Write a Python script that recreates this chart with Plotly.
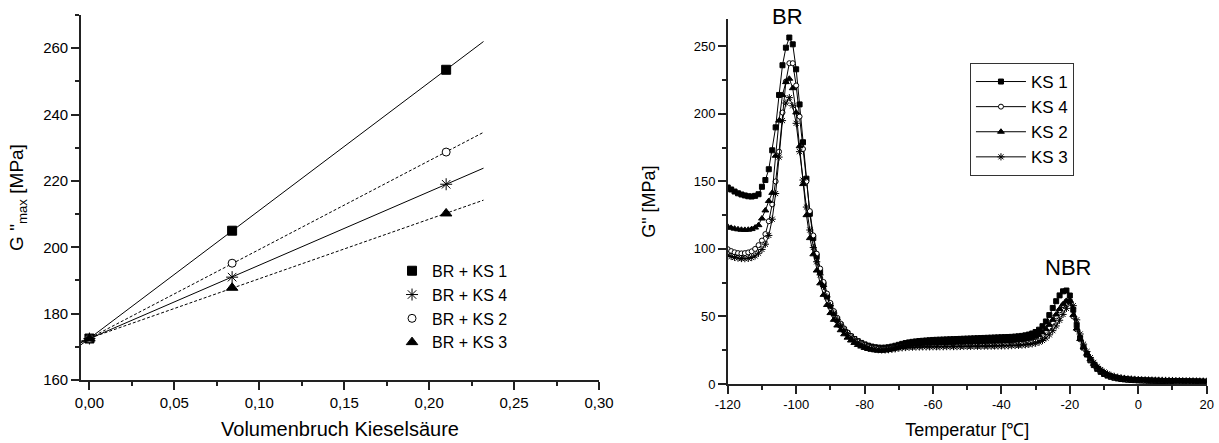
import numpy as np
import plotly.graph_objects as go

FONT = "Liberation Sans, Arial, sans-serif"

# ---- left panel: G''max vs. silica volume fraction ----
vol_frac = [0.0, 0.084, 0.21]
gmax_ks1 = [172.5, 205.0, 253.5]
gmax_ks4 = [172.5, 191.0, 219.0]
gmax_ks2 = [172.5, 195.2, 228.7]
gmax_ks3 = [172.5, 187.8, 210.2]
fit_range = [-0.005, 0.232]

# ---- right panel: loss modulus vs. temperature ----
temp = list(range(-120, 21))

g_ks1 = [
    145.5, 144, 142.5, 141.2, 140.3, 139.6, 139, 138.8, 139.3, 140.5,
    146, 151, 159, 173, 190, 214, 236, 249, 256.5, 251.5,
    233, 207, 179, 152, 126, 108, 94.5, 83, 73.5, 65,
    58, 52.3, 47.5, 43.5, 40.2, 37.5, 35.2, 33.3, 31.7, 30.4,
    29.3, 28.4, 27.7, 27.2, 26.9, 26.8, 26.9, 27.2, 27.7, 28.3,
    29, 29.7, 30.3, 30.8, 31.2, 31.5, 31.8, 32, 32.2, 32.4,
    32.6, 32.7, 32.8, 32.9, 33, 33.1, 33.2, 33.3, 33.4, 33.5,
    33.6, 33.7, 33.8, 33.9, 34, 34.1, 34.2, 34.3, 34.4, 34.5,
    34.6, 34.7, 34.8, 34.9, 35.1, 35.3, 35.6, 36, 36.6, 37.4,
    38.5, 40.2, 42.8, 46.3, 51, 56.3, 61.3, 65.6, 68.6, 69.2,
    65.5, 55, 43.5, 34, 27, 21.8, 17.5, 14, 11.2, 9,
    7.4, 6.2, 5.3, 4.6, 4.1, 3.7, 3.4, 3.2, 3, 2.85,
    2.7, 2.6, 2.5, 2.45, 2.4, 2.35, 2.3, 2.25, 2.2, 2.15,
    2.1, 2.05, 2.0, 1.95, 1.9, 1.85, 1.8, 1.75, 1.7, 1.65, 1.6,
]
g_ks4 = [
    99.8, 98.4, 97.5, 96.9, 96.7, 96.9, 97.4, 98.2, 100, 102.8,
    106.2, 111, 120.5, 133, 150, 172, 201, 224, 237.5, 237.5,
    221, 198, 174, 150, 128, 110, 96.5, 85.5, 75.5, 67,
    60, 54, 49, 44.8, 41.2, 38.2, 35.6, 33.4, 31.6, 30.1,
    28.8, 27.8, 27, 26.4, 26, 25.8, 25.8, 26, 26.4, 26.9,
    27.4, 27.8, 28.1, 28.3, 28.5, 28.6, 28.7, 28.8, 28.9, 28.9,
    29, 29, 29.1, 29.1, 29.2, 29.2, 29.3, 29.3, 29.4, 29.4,
    29.5, 29.5, 29.6, 29.6, 29.7, 29.7, 29.8, 29.8, 29.9, 29.9,
    30, 30.1, 30.2, 30.3, 30.4, 30.6, 30.8, 31.1, 31.5, 32,
    32.8, 34, 35.8, 38.3, 41.8, 45.6, 50, 54.5, 58.3, 61.2,
    61.5, 50, 40.5, 33, 27, 22.5, 18.4, 15, 12.2, 10,
    8.3, 7, 6, 5.2, 4.6, 4.2, 3.9, 3.6, 3.4, 3.2,
    3.05, 2.95, 2.85, 2.75, 2.7, 2.6, 2.55, 2.5, 2.45, 2.4,
    2.35, 2.3, 2.25, 2.2, 2.15, 2.1, 2.05, 2.0, 1.95, 1.9, 1.85,
]
g_ks2 = [
    116.4, 115.6, 115, 114.5, 114.2, 114.1, 114.2, 114.7, 115.8, 117.6,
    122.5, 128.5, 135.5, 141.5, 169, 195, 214, 223.5, 226, 219,
    201, 176, 148, 125, 108, 96, 84, 74.5, 66, 58.5,
    52.5, 47.5, 43.3, 39.8, 36.8, 34.3, 32.2, 30.4, 28.9, 27.7,
    26.7, 25.9, 25.3, 24.9, 24.7, 24.6, 24.8, 25.2, 25.8, 26.5,
    27.3, 28, 28.6, 29.1, 29.4, 29.6, 29.8, 29.9, 30, 30.1,
    30.2, 30.3, 30.4, 30.5, 30.6, 30.6, 30.7, 30.8, 30.8, 30.9,
    31, 31, 31.1, 31.2, 31.2, 31.3, 31.4, 31.4, 31.5, 31.6,
    31.7, 31.8, 31.9, 32, 32.2, 32.4, 32.7, 33, 33.5, 34.1,
    35, 36.3, 38.2, 40.6, 43.8, 47.5, 51.5, 55.5, 59, 61.5,
    61.8, 51, 41, 33.3, 27.1, 22.4, 18.3, 14.9, 12.2, 10,
    8.3, 7, 6, 5.2, 4.6, 4.2, 3.9, 3.6, 3.4, 3.2,
    3.05, 2.95, 2.85, 2.75, 2.7, 2.6, 2.55, 2.5, 2.45, 2.4,
    2.35, 2.3, 2.25, 2.2, 2.15, 2.1, 2.05, 2.0, 1.95, 1.9, 1.85,
]
g_ks3 = [
    95.4, 94.4, 93.7, 93.2, 92.9, 92.8, 93, 93.6, 94.8, 96.8,
    99.6, 103.5, 110, 122, 141, 168, 195, 208, 212, 206,
    193, 172, 151, 131, 114, 101, 90.5, 80.8, 72.3, 64.5,
    58, 52.5, 47.8, 43.8, 40.3, 37.3, 34.8, 32.7, 30.9, 29.4,
    28.2, 27.2, 26.4, 25.8, 25.4, 25.2, 25.2, 25.4, 25.7, 26.1,
    26.5, 26.8, 27, 27.2, 27.3, 27.4, 27.4, 27.5, 27.5, 27.5,
    27.6, 27.6, 27.6, 27.6, 27.7, 27.7, 27.7, 27.7, 27.8, 27.8,
    27.8, 27.8, 27.9, 27.9, 27.9, 28, 28, 28, 28.1, 28.1,
    28.2, 28.2, 28.3, 28.4, 28.5, 28.6, 28.8, 29, 29.3, 29.7,
    30.2, 31, 32.2, 34, 36.4, 39.5, 43, 47.2, 51.5, 56,
    60.5, 58, 47.5, 37, 29.5, 24, 19.5, 16, 13, 10.7,
    8.9, 7.5, 6.4, 5.6, 5, 4.5, 4.1, 3.8, 3.6, 3.4,
    3.25, 3.15, 3.05, 2.95, 2.85, 2.8, 2.75, 2.7, 2.65, 2.6,
    2.55, 2.5, 2.45, 2.4, 2.35, 2.3, 2.25, 2.2, 2.15, 2.1, 2.05,
]

temp_ticks = [-120, -100, -80, -60, -40, -20, 0, 20]
temp_labels = ["-120", "-100", "-80", "-60", "-40", "-20", "0", "20"]

fig = go.Figure()

# left panel: fit lines first, then markers on top
left_series = [
    ("BR + KS 1", gmax_ks1, "square", "solid", 9),
    ("BR + KS 4", gmax_ks4, "asterisk-open", "solid", 10),
    ("BR + KS 2", gmax_ks2, "circle", "3px,2px", 8),
    ("BR + KS 3", gmax_ks3, "triangle-up", "3px,2px", 10),
]
for name, vals, sym, dash, size in left_series:
    slope, icpt = np.polyfit(vol_frac, vals, 1)
    fig.add_trace(go.Scatter(
        x=fit_range, y=[icpt + slope * v for v in fit_range],
        mode="lines", line=dict(color="black", width=1, dash=dash),
        showlegend=False, hoverinfo="skip", xaxis="x", yaxis="y"))
for name, vals, sym, dash, size in left_series:
    fill = "white" if sym == "circle" else "black"
    fig.add_trace(go.Scatter(
        x=vol_frac, y=vals, mode="markers", name=name,
        marker=dict(symbol=sym, size=size, color=fill,
                    line=dict(color="black", width=1)),
        legend="legend", xaxis="x", yaxis="y"))

# right panel
right_series = [
    ("KS 1", g_ks1, "square", 5),
    ("KS 4", g_ks4, "circle", 5),
    ("KS 2", g_ks2, "triangle-up", 6),
    ("KS 3", g_ks3, "asterisk-open", 6),
]
for name, vals, sym, size in right_series:
    fill = "white" if sym == "circle" else "black"
    fig.add_trace(go.Scatter(
        x=temp, y=vals, mode="lines+markers", name=name,
        line=dict(color="black", width=1),
        marker=dict(symbol=sym, size=size, color=fill,
                    line=dict(color="black", width=1)),
        legend="legend2", xaxis="x2", yaxis="y2"))

axis_common = dict(
    showgrid=False, zeroline=False, showline=True, linecolor="#222",
    linewidth=1.5, ticks="outside", ticklen=8, tickwidth=1.5,
    tickcolor="#222", mirror=False, automargin=False,
)
minor_common = dict(ticks="outside", ticklen=4, tickcolor="#222", tickwidth=1.5)

fig.update_layout(
    width=1219, height=443,
    margin=dict(l=0, r=0, t=0, b=0),
    paper_bgcolor="white", plot_bgcolor="white",
    separators=",.",
    font=dict(family=FONT, color="black"),
    xaxis=dict(
        domain=[0.0664, 0.4914], range=[-0.005, 0.30], anchor="y",
        tickvals=[0, 0.05, 0.10, 0.15, 0.20, 0.25, 0.30], tickformat=".2f",
        minor=dict(dtick=0.025, tick0=0, **minor_common),
        tickfont=dict(size=15),
        title=dict(text="Volumenbruch Kieselsäure", font=dict(size=20), standoff=12),
        **axis_common),
    yaxis=dict(
        domain=[0.1422, 0.9661], range=[160, 270], anchor="x",
        tickvals=[160, 180, 200, 220, 240, 260],
        minor=dict(dtick=10, tick0=0, **minor_common),
        tickfont=dict(size=15),
        title=dict(text='G "<sub>max</sub> [MPa]', font=dict(size=19), standoff=14),
        **axis_common),
    xaxis2=dict(
        domain=[0.597, 0.9899], range=[-120, 20], anchor="y2",
        tickvals=temp_ticks, ticktext=temp_labels,
        minor=dict(dtick=10, tick0=0, **minor_common),
        tickfont=dict(size=13),
        title=dict(text="Temperatur [℃]", font=dict(size=18), standoff=12),
        **axis_common),
    yaxis2=dict(
        domain=[0.1332, 0.9564], range=[0, 270], anchor="x2",
        tickvals=[0, 50, 100, 150, 200, 250],
        minor=dict(dtick=25, tick0=0, **minor_common),
        tickfont=dict(size=13),
        title=dict(text='G" [MPa]', font=dict(size=18), standoff=33),
        **axis_common),
    legend=dict(
        x=0.3216, y=0.427, xanchor="left", yanchor="top",
        font=dict(size=16), bgcolor="rgba(0,0,0,0)", borderwidth=0,
        traceorder="normal"),
    legend2=dict(
        x=0.7957, y=0.8578, xanchor="left", yanchor="top",
        font=dict(size=17), bgcolor="white", bordercolor="#333",
        borderwidth=1, traceorder="normal", itemwidth=50),
    showlegend=True,
)

fig.add_annotation(x=-102.4, y=0.962, xref="x2", yref="paper", text="BR",
                   showarrow=False, font=dict(size=22), yanchor="middle")
fig.add_annotation(x=-20.5, y=86.5, xref="x2", yref="y2", text="NBR",
                   showarrow=False, font=dict(size=22), yanchor="middle")

fig.write_html("out.html", config={"displayModeBar": False},
               post_script="document.body.style.margin='0';")
